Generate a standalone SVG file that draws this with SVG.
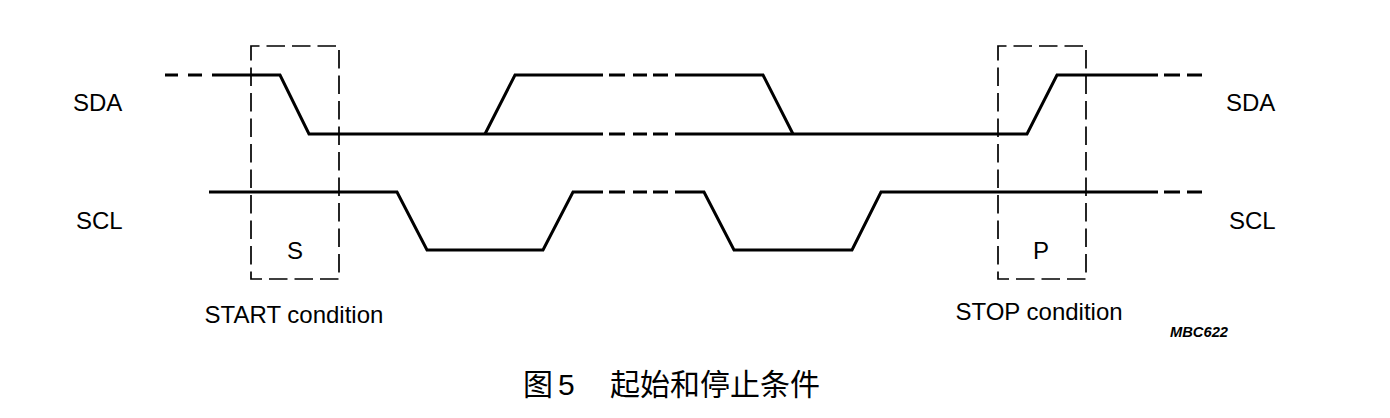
<svg xmlns="http://www.w3.org/2000/svg" width="1390" height="418" viewBox="0 0 1390 418">
<style>
.sig{fill:none;stroke:#000;stroke-width:3;stroke-linejoin:miter;stroke-linecap:butt}
.box{fill:none;stroke:#000;stroke-width:1.7;stroke-dasharray:18.5 7;stroke-dashoffset:10}
.lbl{font-family:"Liberation Sans",Arial,sans-serif;font-size:24px;fill:#000}
.mid{text-anchor:middle}
.cap{font-family:"Noto Sans CJK SC","Noto Sans CJK TC",sans-serif;font-size:30px;fill:#000}
</style>
<rect width="1390" height="418" fill="#fff"/>
<g id="connectors">
  <g id="sda">
    <path class="sig" d="M165 75H178M188 75H202"/>
    <path class="sig" d="M212 75H280L309 134H603"/>
    <path class="sig" d="M485 134L515 75H603"/>
    <path class="sig" d="M609 75H625M633 75H647M653 75H668M609 134H625M633 134H647M653 134H668"/>
    <path class="sig" d="M675 75H763L793 134"/>
    <path class="sig" d="M675 134H1027L1057 75H1158"/>
    <path class="sig" d="M1164 75H1180M1187 75H1202"/>
  </g>
  <g id="scl">
    <path class="sig" d="M209 192H397L427 250H543L573 192H603"/>
    <path class="sig" d="M609 192H625M633 192H647M653 192H668"/>
    <path class="sig" d="M675 192H704L734 250H852L881 192H1158"/>
    <path class="sig" d="M1164 192H1180M1187 192H1202"/>
  </g>
</g>
<g id="start-box">
  <rect class="box" x="251" y="46" width="88" height="233"/>
  <text class="lbl mid" x="295" y="259">S</text>
  <text class="lbl mid" x="294" y="323">START condition</text>
</g>
<g id="stop-box">
  <rect class="box" x="998" y="46" width="88" height="233"/>
  <text class="lbl mid" x="1041" y="259">P</text>
  <text class="lbl mid" x="1039" y="320">STOP condition</text>
</g>
<g id="labels">
  <text class="lbl" x="73" y="111">SDA</text>
  <text class="lbl" x="76" y="229">SCL</text>
  <text class="lbl" x="1226" y="111">SDA</text>
  <text class="lbl" x="1229" y="229">SCL</text>
  <text x="1170" y="337" font-family="Liberation Sans,Arial,sans-serif" font-size="14" font-weight="bold" font-style="italic" textLength="58" lengthAdjust="spacingAndGlyphs">MBC622</text>
</g>
<g id="caption">
  <text class="cap" x="523" y="395">图</text>
  <text x="558" y="395" font-family="Liberation Sans,Arial,sans-serif" font-size="30">5</text>
  <text class="cap" x="610" y="395">起始和停止条件</text>
</g>
</svg>
